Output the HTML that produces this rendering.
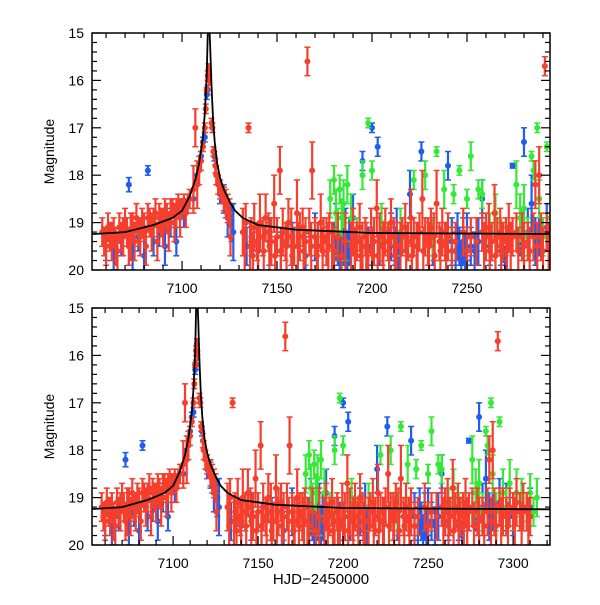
<!DOCTYPE html>
<html><head><meta charset="utf-8">
<style>
body{margin:0;background:#fff;}
svg text{font-family:"Liberation Sans",sans-serif;fill:#000;}
</style></head>
<body>
<svg id="chart" width="600" height="600" viewBox="0 0 600 600" xmlns="http://www.w3.org/2000/svg">
<defs>
<clipPath id="clipTop"><rect x="92" y="33" width="458" height="237"/></clipPath>
<clipPath id="clipBot"><rect x="92" y="308" width="458" height="237"/></clipPath>
</defs>
</svg>
<script>
// ---- data ----
const modelT=[7050,7070,7085,7095,7100,7104,7107,7109,7111,7112,7113,7113.6,7114.2,7114.8,7115.5,7116.3,7117.2,7118.5,7120,7122,7125,7128,7132,7140,7160,7200,7330];
const modelM=[19.25,19.2,19.05,18.9,18.75,18.45,18.1,17.75,17.2,16.7,15.9,14.9,14.7,15.3,16.1,16.8,17.3,17.75,18.05,18.3,18.55,18.75,18.9,19.05,19.15,19.22,19.25];

const redT=[7058,7059,7061,7062,7064,7065,7067,7068,7070,7071,7073,7074,7076,7077,7079,7080,7082,7083,7085,7086,7088,7089,7091,7092,7094,7095,7097,7098,7100,7101,7103,7104,7106,7107,7108,7109,7110,
7111,7112,7112.5,7113,7113.5,7114,7114.3,7115.5,7116,7116.5,7117.5,7118,7119,7120,7121,7122,7123,7124,7125,7125.5,
7132,7133.5,7135,7136.5,7138,7139.5,7141,7142.5,7144,7145.5,7147,7148.5,7150,7151.5,7153,7154.5,7156,7157.5,7159,7160.5,7162,7163.5,7165,7166,7167,7168.5,7170,7171.5,7173,7174.5,7176,7177.5,7179,7182,7186,7190,7192,7193.5,7195,7196.5,7198,7199.5,7201,7202.5,7204,7205.5,7207,7208.5,7210,7211.5,7213,7216,7217.5,7219,7220.5,7222,7223.5,7225,7226.5,7228,7229.5,7231,7232.5,7234,7235.5,7237,7238.5,7240,7244,7248,7252,7255,7258,7260,7261.5,7263,7264.5,7266,7267.5,7269,7270.5,7272,7274,7276,7279,7282,7285,7286,7288,7289,7291,7292,7294,7296,7298,7300,7302,7304,7306,7308,7310];
const redM=[19.2,19.4,19.1,19.3,19.2,19.5,19.1,19.3,19.0,19.2,19.3,19.1,18.9,19.2,19.0,19.1,18.9,19.0,19.0,18.8,18.9,19.0,18.8,18.9,18.8,18.7,18.8,18.6,18.7,18.6,18.6,18.5,18.3,17.0,18.2,17.9,17.7,
17.4,17.0,16.6,16.2,15.9,15.75,16.0,16.9,17.0,17.5,17.8,18.0,18.2,18.3,18.4,18.5,18.6,18.7,18.8,19.3,
19.2,19.0,17.0,19.3,19.1,19.4,19.0,19.3,18.9,19.2,19.4,18.6,19.3,17.9,19.2,19.4,19.0,19.3,19.5,18.8,19.3,19.1,19.4,15.6,19.2,17.9,19.3,19.5,19.0,19.3,19.4,19.2,19.5,19.3,19.4,19.2,19.4,19.1,19.5,19.3,19.6,19.2,19.4,18.7,19.3,19.5,19.2,19.4,19.0,19.3,19.5,19.3,19.1,19.4,18.9,19.3,19.5,19.2,18.5,19.3,19.4,19.1,19.3,18.6,19.4,19.2,19.4,19.3,19.4,19.2,19.3,19.4,19.2,19.3,19.1,19.4,18.8,19.3,19.2,19.4,19.3,19.1,19.3,19.2,19.3,19.4,19.3,18.2,18.0,19.3,15.7,19.2,19.3,19.4,19.2,19.3,19.1,19.3,19.2,19.3,19.4];
const redE=[0.3,0.3,0.3,0.3,0.3,0.4,0.3,0.3,0.3,0.3,0.5,0.3,0.3,0.3,0.3,0.3,0.3,0.3,0.3,0.3,0.3,0.3,0.3,0.3,0.3,0.2,0.3,0.2,0.2,0.2,0.2,0.2,0.5,0.4,0.5,0.3,0.2,
0.1,0.1,0.1,0.05,0.1,0.1,0.1,0.1,0.1,0.1,0.15,0.2,0.2,0.2,0.2,0.25,0.3,0.3,0.3,0.4,
0.5,0.4,0.1,0.4,0.5,0.4,0.6,0.4,0.5,0.4,0.5,0.6,0.4,0.5,0.5,0.4,0.5,0.6,0.4,0.7,0.5,0.4,0.5,0.3,0.5,0.6,0.4,0.5,0.6,0.4,0.5,0.4,0.5,0.5,0.6,0.5,0.4,0.5,0.5,0.4,0.4,0.5,0.5,0.6,0.5,0.4,0.5,0.4,0.5,0.4,0.5,0.4,0.5,0.4,0.6,0.4,0.5,0.4,0.6,0.4,0.5,0.4,0.5,0.7,0.4,0.5,0.4,0.5,0.4,0.5,0.4,0.5,0.4,0.5,0.5,0.4,0.6,0.4,0.5,0.4,0.4,0.5,0.4,0.4,0.5,0.4,0.5,0.5,0.6,0.5,0.2,0.4,0.5,0.4,0.4,0.4,0.5,0.4,0.5,0.4,0.4];

// additional dense red measurements in the baseline cloud
const red2T=[7060,7063,7066,7069,7072,7075,7078,7081,7084,7087,7090,7093,7096,7099,7102,7133,7135.8,7137.3,7140,7143,7146,7149,7152,7155,7158,7161,7164,7168,7171,7174,7177,7180,7184,7189,7191,7194,7197,7200,7203,7206,7209,7212,7215,7218,7221,7224,7227,7230,7233,7236,7239,7242,7250,7259,7262,7265,7268,7271,7273,7277,7280,7283,7287,7290,7293,7297,7301,7305,7309];
const red2M=[19.5,19.4,19.6,19.3,19.5,19.4,19.3,19.5,19.2,19.4,19.1,19.2,19.0,18.9,18.8,19.6,19.5,19.7,19.5,19.6,19.5,19.7,19.6,19.5,19.7,19.5,19.6,19.5,19.7,19.6,19.5,19.6,19.7,19.5,19.6,19.7,19.5,19.6,19.7,19.5,19.6,19.7,19.5,19.6,19.7,19.5,19.6,19.5,19.7,19.6,19.5,19.6,19.6,19.5,19.6,19.7,19.5,19.6,19.5,19.6,19.5,19.6,19.5,19.6,19.5,19.6,19.5,19.6,19.5];
const red2E=[0.4,0.4,0.4,0.4,0.4,0.4,0.4,0.4,0.4,0.4,0.4,0.4,0.4,0.4,0.3,0.5,0.5,0.5,0.5,0.5,0.5,0.4,0.5,0.5,0.4,0.5,0.5,0.5,0.4,0.5,0.5,0.5,0.4,0.5,0.5,0.4,0.5,0.5,0.4,0.5,0.5,0.4,0.5,0.5,0.4,0.5,0.5,0.5,0.4,0.5,0.5,0.5,0.5,0.5,0.5,0.4,0.5,0.5,0.5,0.5,0.5,0.5,0.5,0.5,0.5,0.5,0.5,0.5,0.5];

const blueT=[7060,7064,7068,7072,7074,7077,7080,7082,7085,7088,7091,7094,7097,7101,7106,7108,7110,7111,7112,7113,7113.5,7117,7120,7122,7124,7126,7127,7134,7140,7146,7152,7158,7165,7170,7180,7181,7182,7183,7184,7185,7186,7187,7188,7190,7195,7198,7200,7203,7204,7210,7212,7213,7214,7220,7226,7232,7240,7242,7244,7245,7246,7247,7248,7249,7250,7252,7254,7256,7258,7262,7268,7270,7274,7278,7280,7282,7284,7286,7288,7292,7296,7300,7305,7310];
const blueM=[19.5,19.7,19.4,18.2,19.6,19.3,19.7,17.9,19.4,19.2,19.5,19.0,19.4,18.8,18.5,18.0,17.6,17.3,17.2,16.3,16.2,17.6,18.4,18.5,18.9,19.0,19.2,19.5,19.6,19.4,19.6,19.5,19.7,19.3,19.5,19.2,19.4,19.6,19.3,19.5,19.2,19.6,19.4,18.9,17.7,19.5,17.0,17.4,19.4,19.3,19.5,19.2,19.6,18.4,17.5,19.4,17.8,19.4,19.6,19.3,19.5,19.7,19.4,19.6,19.3,19.5,19.6,19.4,18.5,19.5,19.6,19.8,17.8,19.3,17.3,19.2,18.6,19.4,19.3,19.1,19.2,19.4,19.3,19.2];
const blueE=[0.3,0.3,0.3,0.15,0.4,0.3,0.4,0.1,0.3,0.3,0.4,0.3,0.3,0.3,0.2,0.2,0.1,0.1,0.1,0.1,0.1,0.1,0.2,0.3,0.4,0.4,0.6,0.4,0.4,0.5,0.4,0.5,0.4,0.5,0.5,0.6,0.5,0.4,0.5,0.4,0.5,0.4,0.5,0.5,0.2,0.4,0.1,0.2,0.5,0.5,0.4,0.5,0.4,0.5,0.2,0.5,0.3,0.5,0.4,0.5,0.4,0.3,0.5,0.4,0.5,0.4,0.4,0.5,0.4,0.4,0.3,0.3,0.05,0.4,0.3,0.5,0.6,0.5,0.4,0.5,0.5,0.4,0.4,0.4];

const greenT=[7178,7180,7181,7182,7183,7184,7185,7186,7187,7189,7192,7195,7198,7200,7205,7215,7222,7228,7232,7234,7238,7243,7246,7250,7252,7256,7258,7262,7265,7268,7276,7278,7279,7280,7282,7284,7285,7287,7288,7290,7292,7294,7296,7298,7300,7302,7305,7308,7310,7312,7314];
const greenM=[18.5,18.1,18.8,19.2,18.3,18.9,18.6,19.4,18.2,18.9,19.3,18.0,16.9,17.9,19.0,19.2,18.1,18.0,19.3,17.5,18.3,18.4,17.9,18.5,17.6,18.3,18.4,19.2,18.8,19.3,18.2,18.9,19.1,18.7,19.3,17.6,17.9,17.0,18.5,19.3,17.4,18.9,19.2,18.7,19.3,18.9,19.0,19.2,18.9,19.3,19.0];
const greenE=[0.4,0.3,0.5,0.5,0.3,0.4,0.5,0.4,0.4,0.5,0.4,0.3,0.1,0.2,0.4,0.5,0.2,0.3,0.4,0.1,0.4,0.2,0.1,0.2,0.3,0.2,0.3,0.4,0.4,0.4,0.5,0.5,0.4,0.5,0.4,0.1,0.2,0.1,0.4,0.4,0.1,0.5,0.4,0.5,0.4,0.5,0.4,0.3,0.4,0.3,0.4];

const yTicks=[15,16,17,18,19,20];
const xTicksTop=[7100,7150,7200,7250];
const xTicksBot=[7100,7150,7200,7250,7300];

// ---- drawing ----
const NS='http://www.w3.org/2000/svg';
const svg=document.getElementById('chart');
function mk(tag,attrs,parent){const e=document.createElementNS(NS,tag);for(const k in attrs)e.setAttribute(k,attrs[k]);(parent||svg).appendChild(e);return e;}

const panels=[
 {name:'top',x0:92,x1:550,y0:33,y1:270,t0:7052.6,t1:7293.7,ticks:xTicksTop,clip:'clipTop'},
 {name:'bottom',x0:92,x1:550,y0:308,y1:545,t0:7052.3,t1:7321.7,ticks:xTicksBot,clip:'clipBot'}
];
const series=[
 {name:'blue',T:blueT,M:blueM,E:blueE,c:'#1f5df0'},
 {name:'green',T:greenT,M:greenM,E:greenE,c:'#35ea35'},
 {name:'red-dense',T:red2T,M:red2M,E:red2E,c:'#f53e2c'},
 {name:'red',T:redT,M:redM,E:redE,c:'#f53e2c'}
];

panels.forEach(p=>{
 const xs=t=>p.x0+(t-p.t0)/(p.t1-p.t0)*(p.x1-p.x0);
 const ys=m=>p.y0+(m-15)/5*(p.y1-p.y0);
 const g=mk('g',{'clip-path':'url(#'+p.clip+')'});
 
 
 series.forEach(s=>{
  const sg=mk('g',{stroke:s.c,fill:s.c,'stroke-width':2.2},g);
  
  
  for(let i=0;i<s.T.length;i++){
   const x=xs(s.T[i]),y=ys(s.M[i]),ya=ys(s.M[i]-s.E[i]),yb=ys(s.M[i]+s.E[i]);
   const pg=mk('g',{},sg);
   
   
   mk('line',{x1:x,x2:x,y1:ya,y2:yb},pg);
   mk('line',{x1:x-3,x2:x+3,y1:ya,y2:ya,'stroke-width':1.5},pg);
   mk('line',{x1:x-3,x2:x+3,y1:yb,y2:yb,'stroke-width':1.5},pg);
   mk('circle',{cx:x,cy:y,r:3,stroke:'none'},pg);
  }
 });
 let d='';
 for(let i=0;i<modelT.length;i++){d+=(i?'L':'M')+xs(modelT[i]).toFixed(1)+','+ys(modelM[i]).toFixed(1);}
 const ml=mk('path',{d:d,fill:'none',stroke:'#000','stroke-width':1.8},g);
 
 
 const fr=mk('rect',{x:p.x0,y:p.y0,width:p.x1-p.x0,height:p.y1-p.y0,fill:'none',stroke:'#000','stroke-width':1.5});
 
 
 const tg=mk('g',{stroke:'#000','stroke-width':1.2});
 
 
 for(let t=Math.ceil(p.t0/10)*10;t<=p.t1;t+=10){
  const x=xs(t),L=(t%50===0)?9:5;
  mk('line',{x1:x,x2:x,y1:p.y1,y2:p.y1-L},tg);
  mk('line',{x1:x,x2:x,y1:p.y0,y2:p.y0+L},tg);
 }
 for(let m=15;m<=20.001;m+=0.2){
  const y=ys(m),L=(Math.abs(m-Math.round(m))<0.01)?9:5;
  mk('line',{x1:p.x0,x2:p.x0+L,y1:y,y2:y},tg);
  mk('line',{x1:p.x1,x2:p.x1-L,y1:y,y2:y},tg);
 }
 p.ticks.forEach(t=>{
  const tx=mk('text',{x:xs(t),y:p.y1+23,'text-anchor':'middle','font-size':14});
  tx.textContent=t;
  
  
 });
 yTicks.forEach(m=>{
  const tx=mk('text',{x:p.x0-8,y:ys(m)+5,'text-anchor':'end','font-size':14});
  tx.textContent=m;
  
  
 });
 const yt=mk('text',{x:0,y:0,'text-anchor':'middle','font-size':14,transform:'translate(54,'+((p.y0+p.y1)/2)+') rotate(-90)'});
 yt.textContent='Magnitude';
 
 
});
const xt=mk('text',{x:321,y:584,'text-anchor':'middle','font-size':15});
xt.textContent='HJD\u22122450000';


</script>
</body></html>
